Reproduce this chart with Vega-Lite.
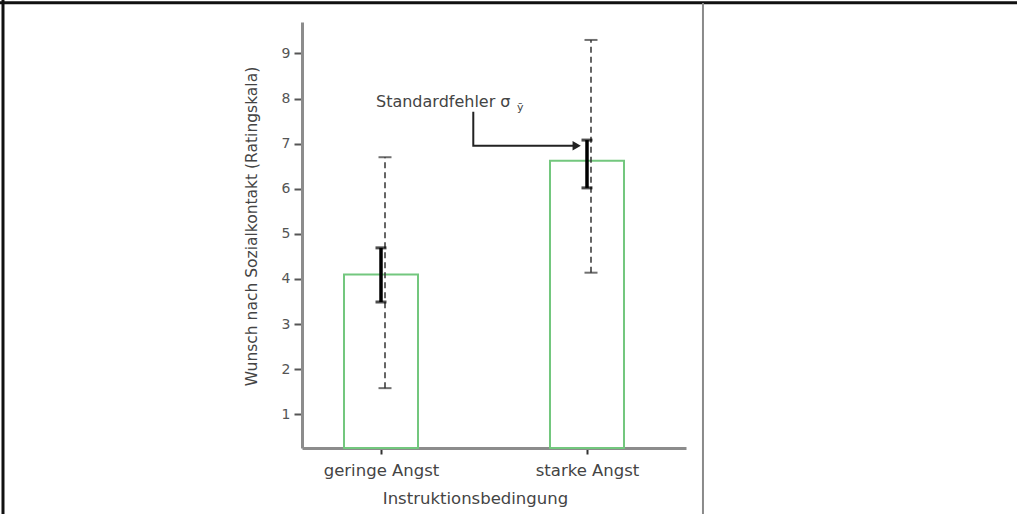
{
  "$schema": "https://vega.github.io/schema/vega-lite/v6.json",
  "width": 384,
  "height": 426,
  "autosize": {"type": "none"},
  "padding": {"left": 302, "top": 22, "right": 331, "bottom": 66},
  "background": "white",
  "config": {"view": {"stroke": null}, "font": "DejaVu Sans"},
  "datasets": {
    "groups": [
      {"Bedingung": "geringe Angst", "k": 1, "M": 4.1, "SD_lo": 1.58, "SD_hi": 6.7, "SE_lo": 3.49, "SE_hi": 4.69},
      {"Bedingung": "starke Angst", "k": 2, "M": 6.62, "SD_lo": 4.14, "SD_hi": 9.3, "SE_lo": 6.02, "SE_hi": 7.08}
    ],
    "arrow": [
      {"step": 1, "x": 1.448, "y": 7.709},
      {"step": 2, "x": 1.448, "y": 6.955},
      {"step": 3, "x": 1.95, "y": 6.955}
    ],
    "arrowhead": [{"x": 1.95, "y": 6.955}],
    "note": [{"x": 0.9757, "y": 7.821, "text": "Standardfehler σ"}],
    "noteSub": [{"x": 1.66, "y": 7.72, "text": "ȳ"}],
    "one": [{"frame": 1}]
  },
  "layer": [
    {
      "data": {"name": "groups"},
      "mark": {"type": "bar", "width": 74, "fill": "white", "stroke": "#73c77e", "strokeWidth": 2},
      "encoding": {
        "x": {
          "field": "k", "type": "quantitative",
          "scale": {"domain": [0.6165, 2.4806], "nice": false, "zero": false, "padding": 0},
          "axis": {
            "values": [1, 2],
            "labelExpr": "datum.value == 1 ? 'geringe Angst' : 'starke Angst'",
            "title": "Instruktionsbedingung",
            "grid": false,
            "domainColor": "#8c8c8c", "domainWidth": 3,
            "tickSize": 6, "tickWidth": 2, "tickColor": "#333",
            "labelFontSize": 16.5, "labelColor": "#444", "labelBaseline": "alphabetic", "labelPadding": 21,
            "labelFlush": false, "labelOverlap": false,
            "titleFontSize": 16.5, "titleFontWeight": "normal", "titleColor": "#444",
            "titleX": 173, "titleY": 55, "titleBaseline": "alphabetic", "titleAlign": "center"
          }
        },
        "y": {
          "field": "M", "type": "quantitative",
          "scale": {"domain": [0.253, 9.698], "nice": false, "zero": false, "padding": 0},
          "axis": {
            "values": [1, 2, 3, 4, 5, 6, 7, 8, 9],
            "format": "d",
            "grid": false,
            "domainColor": "#8c8c8c", "domainWidth": 3,
            "tickSize": 8, "tickWidth": 2, "tickColor": "#555",
            "labelFontSize": 14, "labelColor": "#555", "labelPadding": 4,
            "title": "Wunsch nach Sozialkontakt (Ratingskala)",
            "titleFontSize": 15.5, "titleFontWeight": "normal", "titleColor": "#444",
            "titleX": -46, "titleY": 204, "titleAngle": -90, "titleAlign": "center", "titleBaseline": "alphabetic"
          }
        },
        "y2": {"datum": 0.253}
      }
    },
    {
      "data": {"name": "one"},
      "mark": {"type": "rule", "color": "#111", "strokeWidth": 3},
      "encoding": {
        "x": {"datum": -0.835, "type": "quantitative"},
        "y": {"datum": 10.19, "type": "quantitative"},
        "y2": {"datum": -1.21}
      }
    },
    {
      "data": {"name": "one"},
      "mark": {"type": "rule", "color": "#111", "strokeWidth": 3},
      "encoding": {
        "x": {"datum": -0.85, "type": "quantitative"},
        "x2": {"datum": 4.09},
        "y": {"datum": 10.124, "type": "quantitative"}
      }
    },
    {
      "data": {"name": "one"},
      "mark": {"type": "rule", "color": "#8a8a8a", "strokeWidth": 2},
      "encoding": {
        "x": {"datum": 2.563, "type": "quantitative"},
        "y": {"datum": 10.12, "type": "quantitative"},
        "y2": {"datum": -1.21}
      }
    },
    {
      "data": {"name": "groups"},
      "mark": {"type": "rule", "color": "#333", "strokeWidth": 1.5, "strokeDash": [6, 4], "xOffset": 4},
      "encoding": {
        "x": {"field": "k", "type": "quantitative"},
        "y": {"field": "SD_lo", "type": "quantitative"},
        "y2": {"field": "SD_hi"}
      }
    },
    {
      "data": {"name": "groups"},
      "mark": {"type": "tick", "orient": "horizontal", "color": "#333", "size": 13, "thickness": 2, "xOffset": 4},
      "encoding": {
        "x": {"field": "k", "type": "quantitative"},
        "y": {"field": "SD_lo", "type": "quantitative"}
      }
    },
    {
      "data": {"name": "groups"},
      "mark": {"type": "tick", "orient": "horizontal", "color": "#333", "size": 13, "thickness": 2, "xOffset": 4},
      "encoding": {
        "x": {"field": "k", "type": "quantitative"},
        "y": {"field": "SD_hi", "type": "quantitative"}
      }
    },
    {
      "data": {"name": "groups"},
      "mark": {"type": "rule", "color": "#000", "strokeWidth": 3.5},
      "encoding": {
        "x": {"field": "k", "type": "quantitative"},
        "y": {"field": "SE_lo", "type": "quantitative"},
        "y2": {"field": "SE_hi"}
      }
    },
    {
      "data": {"name": "groups"},
      "mark": {"type": "tick", "orient": "horizontal", "color": "#000", "size": 11, "thickness": 3},
      "encoding": {
        "x": {"field": "k", "type": "quantitative"},
        "y": {"field": "SE_lo", "type": "quantitative"}
      }
    },
    {
      "data": {"name": "groups"},
      "mark": {"type": "tick", "orient": "horizontal", "color": "#000", "size": 11, "thickness": 3},
      "encoding": {
        "x": {"field": "k", "type": "quantitative"},
        "y": {"field": "SE_hi", "type": "quantitative"}
      }
    },
    {
      "data": {"name": "arrow"},
      "mark": {"type": "line", "color": "#222", "strokeWidth": 2},
      "encoding": {
        "x": {"field": "x", "type": "quantitative"},
        "y": {"field": "y", "type": "quantitative"},
        "order": {"field": "step", "type": "quantitative"}
      }
    },
    {
      "data": {"name": "arrowhead"},
      "mark": {"type": "point", "shape": "triangle-right", "filled": true, "color": "#222", "size": 90, "opacity": 1},
      "encoding": {
        "x": {"field": "x", "type": "quantitative"},
        "y": {"field": "y", "type": "quantitative"}
      }
    },
    {
      "data": {"name": "note"},
      "mark": {"type": "text", "align": "left", "baseline": "alphabetic", "fontSize": 16, "color": "#444"},
      "encoding": {
        "x": {"field": "x", "type": "quantitative"},
        "y": {"field": "y", "type": "quantitative"},
        "text": {"field": "text"}
      }
    },
    {
      "data": {"name": "noteSub"},
      "mark": {"type": "text", "align": "left", "baseline": "alphabetic", "fontSize": 11, "color": "#444"},
      "encoding": {
        "x": {"field": "x", "type": "quantitative"},
        "y": {"field": "y", "type": "quantitative"},
        "text": {"field": "text"}
      }
    }
  ]
}
